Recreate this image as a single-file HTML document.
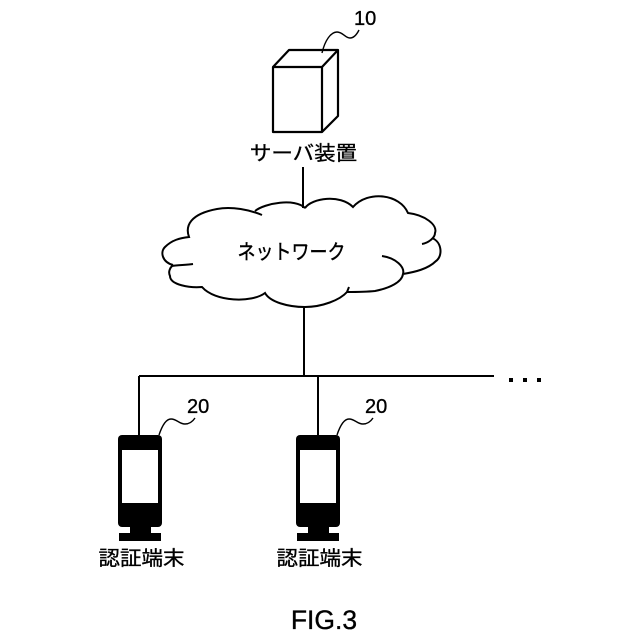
<!DOCTYPE html>
<html><head><meta charset="utf-8">
<style>html,body{margin:0;padding:0;background:#fff}svg{display:block}
text{font-family:"Liberation Sans","Noto Sans CJK JP",sans-serif;fill:#000;stroke:#000;stroke-width:.35}</style></head>
<body>
<svg width="640" height="640" viewBox="0 0 640 640" xmlns="http://www.w3.org/2000/svg">
<rect width="640" height="640" fill="#fff"/>
<g fill="none" stroke="#000" stroke-width="2">
<!-- server -->
<path d="M273 67H322V132H273Z M273 67L289 50H338L322 67 M338 50V116L322 132" stroke-width="2.200" stroke-linejoin="round"/>
<path d="M322 53C325 40 331 32 337 32C343 32 345 38 350 38C354 38 357 34 359 30" stroke-width="1.400"/>
<!-- connectors -->
<path d="M303 167V208M304 307V376M139 376H494M139 376V436M318 376V436"/>
<!-- cloud -->
<path stroke-width="2" d="M305 208C312 198 340 194 353 207C368 190 400 194 408 213C425 215 438 225 435 233C435 238 428 243 422 244M432 238C442 242 443 256 436 261C428 269 415 272 403 274M382 256C396 258 405 267 403 274C402 282 390 288 375 291C365 292 355 292 347 292L349 287M347 292C340 300 322 307 305 307C288 307 270 302 265 293C252 303 215 302 202 287C190 288 170 285 170 276C168 272 170 268 172 266C176 265 186 265 193 264M173 265C162 262 160 252 165 247C172 240 180 238 189 237C185 226 190 214 217 209C232 206 250 210 262 215M255 211C265 203 295 198 305 208"/>
<!-- leaders -->
<path d="M159 435C162 426 166 419 171 419C177 419 179 424 185 424C190 424 193 421 195 418" stroke-width="1.400"/>
<path d="M337 435C340 426 344 419 349 419C355 419 357 424 363 424C368 424 371 421 373 418" stroke-width="1.400"/>
</g>
<!-- terminals -->
<g fill="#000">
<rect x="118" y="435" width="44" height="92" rx="4"/>
<rect x="130" y="526" width="21" height="8"/>
<rect x="119" y="533" width="42" height="8"/>
<rect x="296" y="435" width="44" height="92" rx="4"/>
<rect x="308" y="526" width="21" height="8"/>
<rect x="297" y="533" width="42" height="8"/>
<rect x="509" y="378" width="4" height="4"/>
<rect x="523" y="378" width="4" height="4"/>
<rect x="537" y="378" width="4" height="4"/>
</g>
<rect x="122" y="450" width="36" height="53" fill="#fff"/>
<rect x="300" y="450" width="36" height="53" fill="#fff"/>
<!-- labels -->
<text x="354" y="25" font-size="20">10</text>
<text transform="translate(303.500 160) scale(1 .92)" font-size="21.500" text-anchor="middle">サーバ装置</text>
<text transform="translate(291.500 259) scale(1 1.150)" font-size="18" text-anchor="middle">ネットワーク</text>
<text x="187" y="413" font-size="20">20</text>
<text x="365" y="413" font-size="20">20</text>
<text transform="translate(141.500 565) scale(1 .92)" font-size="21.500" text-anchor="middle">認証端末</text>
<text transform="translate(319.500 565) scale(1 .92)" font-size="21.500" text-anchor="middle">認証端末</text>
<text x="324" y="629" font-size="26.500" text-anchor="middle">FIG.3</text>
</svg>
</body></html>
